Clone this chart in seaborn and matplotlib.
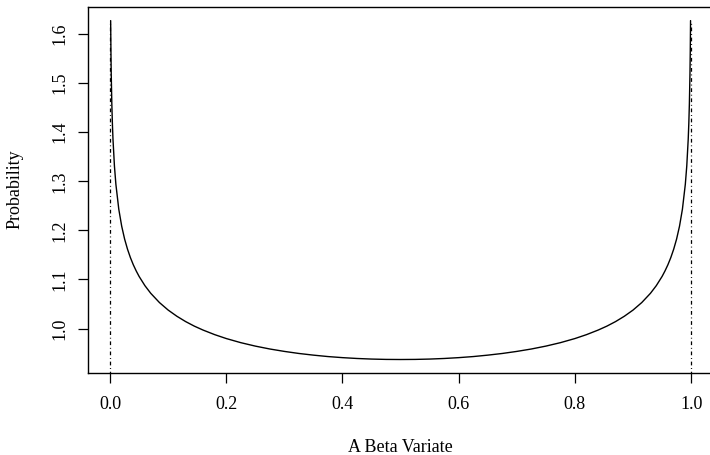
import matplotlib
matplotlib.use("Agg")
import matplotlib.pyplot as plt
import seaborn as sns
import pandas as pd

# Beta variate values and their density (symmetric U-shaped curve)
x_left = [0.001, 0.0015, 0.002, 0.003, 0.004, 0.005, 0.0075, 0.01, 0.015, 0.02,
          0.025, 0.03, 0.035, 0.04, 0.045, 0.05, 0.06, 0.07, 0.085, 0.1,
          0.115, 0.13, 0.145, 0.16, 0.18, 0.2, 0.225, 0.25, 0.275, 0.3,
          0.325, 0.35, 0.375, 0.4, 0.425, 0.45, 0.475]
y_left = [1.6274, 1.5628, 1.5186, 1.4584, 1.4172, 1.3861, 1.3313, 1.2939, 1.2431, 1.2085,
          1.1824, 1.1617, 1.1445, 1.1299, 1.1173, 1.1061, 1.0873, 1.0718, 1.0529, 1.0376,
          1.0250, 1.0142, 1.0049, 0.9969, 0.9876, 0.9796, 0.9712, 0.9642, 0.9583, 0.9534,
          0.9492, 0.9458, 0.9429, 0.9407, 0.9390, 0.9378, 0.9371]
x_mid = [0.5]
y_mid = [0.9369]

x_vals = x_left + x_mid + [round(1 - v, 4) for v in reversed(x_left)]
y_vals = y_left + y_mid + list(reversed(y_left))

support = [0.0, 1.0]
x_ticks = [0.0, 0.2, 0.4, 0.6, 0.8, 1.0]
y_ticks = [1.0, 1.1, 1.2, 1.3, 1.4, 1.5, 1.6]

df = pd.DataFrame({"x": x_vals, "y": y_vals})

sns.set_theme(style="white")
plt.rcParams["font.family"] = ["Liberation Serif", "DejaVu Serif"]

W, H = 710, 455
fig = plt.figure(figsize=(W / 100, H / 100), dpi=100)
left, right, top, bottom = 87.7, 713.5, 7.3, 373.3
ax = fig.add_axes([left / W, 1 - bottom / H, (right - left) / W, (bottom - top) / H])

sns.lineplot(data=df, x="x", y="y", sort=False, color="black", linewidth=1.0,
             ax=ax, estimator=None)

ymax = max(y_vals)
ax.vlines(support, 0, ymax, colors="black", linewidth=0.9,
          linestyles=[(0, (3.0, 2.2, 0.7, 2.2))])

ax.set_xlim(-0.0385, 1.0385)
ax.set_ylim(0.9088, 1.6545)
ax.set_xticks(x_ticks)
ax.set_xticklabels([f"{v:.1f}" for v in x_ticks])
ax.set_yticks(y_ticks)
ax.set_yticklabels([f"{v:.1f}" for v in y_ticks], rotation=90, va="center")

for s in ax.spines.values():
    s.set_color("black")
    s.set_linewidth(1.0)

ax.tick_params(axis="both", direction="out", length=7.2, width=0.9, color="black",
               labelsize=13, labelcolor="black", bottom=True, left=True)
ax.tick_params(axis="x", pad=9)
ax.tick_params(axis="y", pad=7)

ax.set_xlabel("A Beta Variate", fontsize=13, color="black")
ax.set_ylabel("Probability", fontsize=13, color="black")
ax.xaxis.label.set_va("center")
ax.yaxis.label.set_va("center")
ax.xaxis.set_label_coords((400 - left) / (right - left), (bottom - 447) / (bottom - top))
ax.yaxis.set_label_coords((15 - left) / (right - left), (bottom - 189) / (bottom - top))

fig.savefig("out.png", dpi=100, facecolor="white")
